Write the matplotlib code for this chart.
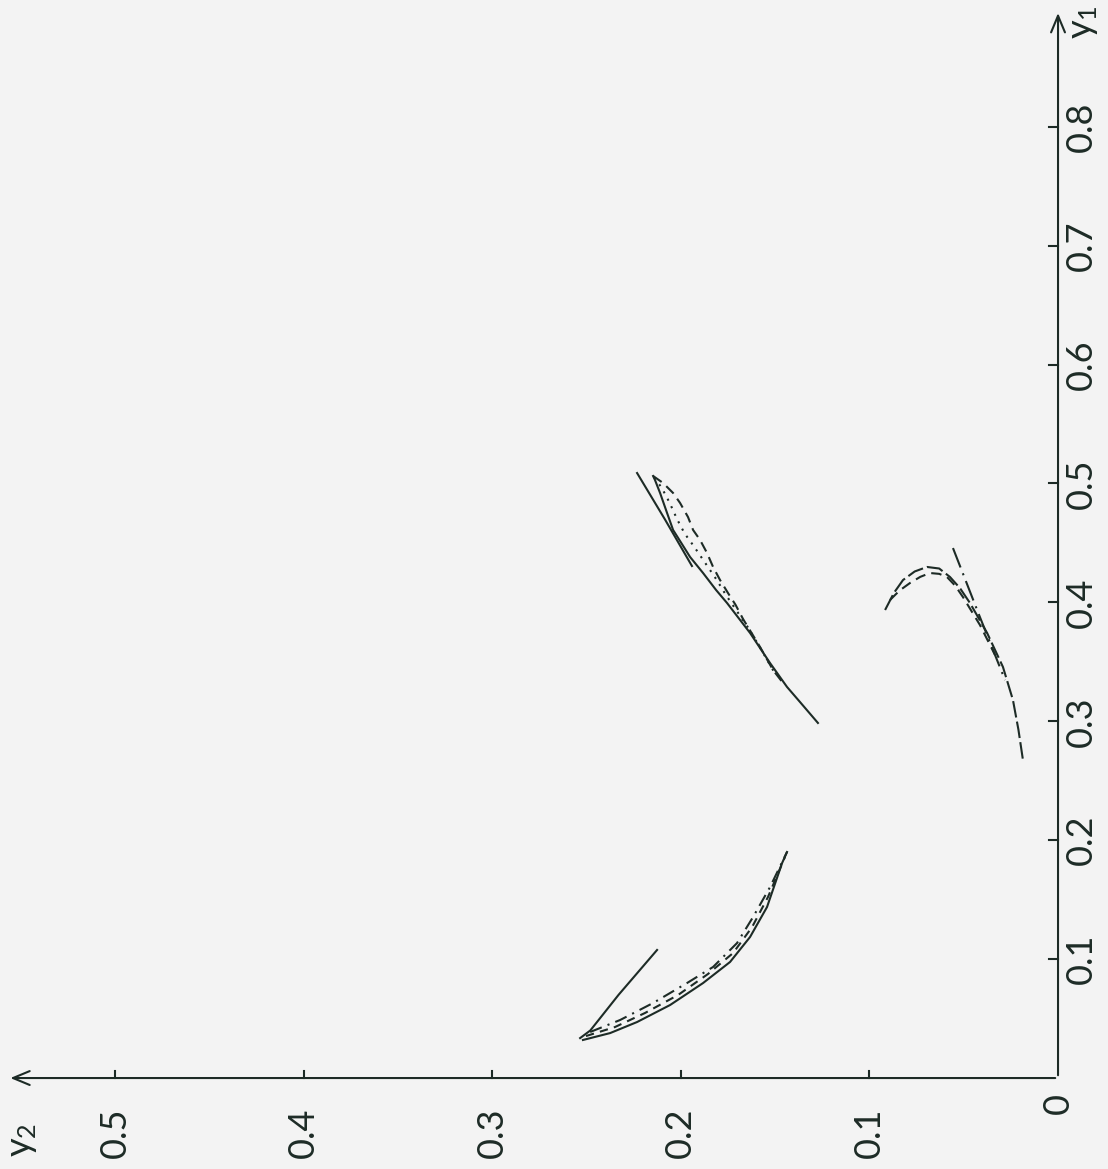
import matplotlib
matplotlib.use("Agg")
import matplotlib.pyplot as plt

# ---- data (y2 horizontal, y1 vertical) ----
# cluster 1 (upper middle)
c1_solid_y2 = [0.2147, 0.2137, 0.2110, 0.2073, 0.2041, 0.2004, 0.1951, 0.1882, 0.1813, 0.1755,
               0.1633, 0.1527, 0.1437, 0.1368, 0.1273]
c1_solid_y1 = [0.5063, 0.5029, 0.4920, 0.4752, 0.4609, 0.4516, 0.4382, 0.4247, 0.4104, 0.3995,
               0.3743, 0.3490, 0.3289, 0.3162, 0.2986]
c1_dash_y2 = [0.2147, 0.2094, 0.2041, 0.2004, 0.1962, 0.1935, 0.1898, 0.1861, 0.1829, 0.1792,
              0.1750, 0.1710, 0.1670, 0.1620, 0.1580, 0.1511, 0.1458]
c1_dash_y1 = [0.5063, 0.5004, 0.4920, 0.4836, 0.4718, 0.4609, 0.4525, 0.4415, 0.4298, 0.4188,
              0.4079, 0.3980, 0.3860, 0.3730, 0.3625, 0.3431, 0.3322]
c1_dot_y2 = [0.2140, 0.2100, 0.2060, 0.2020, 0.1980, 0.1930, 0.1870, 0.1810, 0.1760, 0.1700,
             0.1640, 0.1580, 0.1500]
c1_dot_y1 = [0.5050, 0.4960, 0.4840, 0.4700, 0.4580, 0.4470, 0.4330, 0.4190, 0.4060, 0.3920,
             0.3780, 0.3620, 0.3400]
c1_line_y2 = [0.2232, 0.2085, 0.1941]
c1_line_y1 = [0.5088, 0.4700, 0.4306]

# cluster 2 (lower left)
c2_solid_y2 = [0.2519, 0.2375, 0.2232, 0.2057, 0.1882, 0.1739, 0.1633, 0.1543, 0.1463, 0.1437]
c2_solid_y1 = [0.0320, 0.0378, 0.0471, 0.0614, 0.0799, 0.0976, 0.1186, 0.1438, 0.1808, 0.1901]
c2_dashdot_y2 = [0.2481, 0.2322, 0.2147, 0.1967, 0.1829, 0.1702, 0.1617, 0.1527, 0.1437]
c2_dashdot_y1 = [0.0387, 0.0488, 0.0631, 0.0799, 0.0934, 0.1135, 0.1354, 0.1606, 0.1901]
c2_dash_y2 = [0.2503, 0.2349, 0.2190, 0.2015, 0.1856, 0.1723, 0.1622, 0.1538, 0.1448]
c2_dash_y1 = [0.0353, 0.0429, 0.0547, 0.0698, 0.0875, 0.1051, 0.1270, 0.1522, 0.1859]
c2_line_y2 = [0.2534, 0.2480, 0.2330, 0.2126]
c2_line_y1 = [0.0336, 0.0400, 0.0700, 0.1077]

# cluster 3 (right)
c3_solid_y2 = [0.0917, 0.0870, 0.0822, 0.0760, 0.0695, 0.0630, 0.0573, 0.0520, 0.0467, 0.0376,
               0.0292, 0.0239, 0.0210, 0.0186]
c3_solid_y1 = [0.3936, 0.4080, 0.4188, 0.4260, 0.4298, 0.4285, 0.4214, 0.4120, 0.3995, 0.3743,
               0.3457, 0.3179, 0.2930, 0.2675]
c3_dash_y2 = [0.0891, 0.0840, 0.0785, 0.0730, 0.0679, 0.0630, 0.0589, 0.0545, 0.0504, 0.0414, 0.0334]
c3_dash_y1 = [0.4020, 0.4100, 0.4163, 0.4215, 0.4247, 0.4240, 0.4214, 0.4140, 0.4045, 0.3810, 0.3558]
c3_line_y2 = [0.0557, 0.0420, 0.0281]
c3_line_y1 = [0.4457, 0.3900, 0.3347]

y1_ticks = [0.1, 0.2, 0.3, 0.4, 0.5, 0.6, 0.7, 0.8]
y1_labels = ["0.1", "0.2", "0.3", "0.4", "0.5", "0.6", "0.7", "0.8"]
y2_ticks = [0.1, 0.2, 0.3, 0.4, 0.5]
y2_labels = ["0.1", "0.2", "0.3", "0.4", "0.5"]

# ---- figure ----
plt.rcParams["mathtext.fontset"] = "custom"
plt.rcParams["mathtext.rm"] = "Lato"
plt.rcParams["mathtext.it"] = "Lato"

bg = "#f3f3f3"
ink = "#1d2b26"
fig = plt.figure(figsize=(11.08, 11.69), dpi=100, facecolor=bg)
ax = fig.add_axes([0, 0, 1, 1], facecolor=bg)
ax.set_xlim(0.561, -0.0265)
ax.set_ylim(-0.0765, 0.9066)
ax.axis("off")

lw = 1.5
# curves
ax.plot(c1_solid_y2, c1_solid_y1, color=ink, lw=lw, ls="-")
ax.plot(c1_dash_y2, c1_dash_y1, color=ink, lw=lw, ls=(0, (5, 3)))
ax.plot(c1_dot_y2, c1_dot_y1, color=ink, lw=lw, ls=(0, (1, 3)))
ax.plot(c1_line_y2, c1_line_y1, color=ink, lw=lw, ls="-")

ax.plot(c2_solid_y2, c2_solid_y1, color=ink, lw=lw, ls="-")
ax.plot(c2_dashdot_y2, c2_dashdot_y1, color=ink, lw=lw, ls=(0, (6, 3, 1, 3)))
ax.plot(c2_dash_y2, c2_dash_y1, color=ink, lw=lw, ls=(0, (4, 3)))
ax.plot(c2_line_y2, c2_line_y1, color=ink, lw=lw, ls="-")

ax.plot(c3_solid_y2, c3_solid_y1, color=ink, lw=lw, ls=(0, (8, 2)))
ax.plot(c3_dash_y2, c3_dash_y1, color=ink, lw=lw, ls=(0, (5, 3)))
ax.plot(c3_line_y2, c3_line_y1, color=ink, lw=lw, ls=(0, (10, 3, 1, 3)))

# axes with arrows
ax.annotate("", xy=(0, 0.898), xytext=(0, 0),
            arrowprops=dict(arrowstyle="->,head_length=1.2,head_width=0.5", color=ink, lw=1.5))
ax.annotate("", xy=(0.557, 0), xytext=(0, 0),
            arrowprops=dict(arrowstyle="->,head_length=1.2,head_width=0.5", color=ink, lw=1.5))

# ticks
for t in y1_ticks:
    ax.plot([0, 0.005], [t, t], color=ink, lw=1.5)
for t in y2_ticks:
    ax.plot([t, t], [0, 0.006], color=ink, lw=1.5)

fam = ["Lato", "DejaVu Sans"]
fs = 26
fw = "normal"
for t, lab in zip(y1_ticks, y1_labels):
    ax.text(-0.0122, t, lab, rotation=90, ha="center", va="center",
            fontsize=fs, color=ink, family=fam, fontweight=fw)
for t, lab in zip(y2_ticks, y2_labels):
    ax.text(t, -0.046, lab, rotation=90, ha="center", va="center",
            fontsize=fs, color=ink, family=fam, fontweight=fw)
ax.text(0.0, -0.021, "0", rotation=90, ha="center", va="center",
        fontsize=fs, color=ink, family=fam, fontweight=fw)
ax.text(-0.0135, 0.888, "y$_1$", rotation=90, ha="center", va="center",
        fontsize=fs, color=ink, family=fam, fontweight=fw)
ax.text(0.549, -0.052, "y$_2$", rotation=90, ha="center", va="center",
        fontsize=fs, color=ink, family=fam, fontweight=fw)

fig.savefig("out.png", dpi=100, facecolor=bg)
